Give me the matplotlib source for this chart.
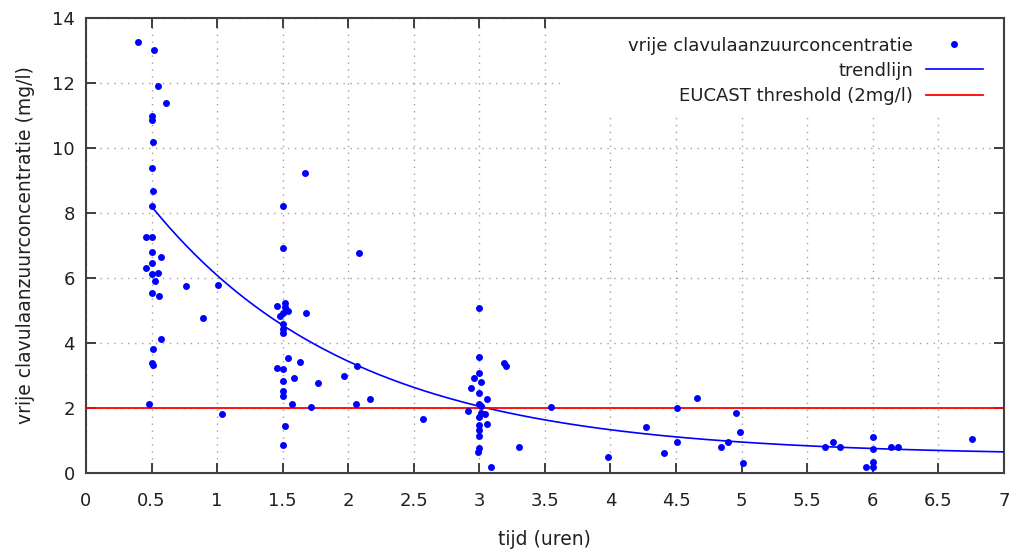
import numpy as np
import matplotlib
matplotlib.use("Agg")
import matplotlib.pyplot as plt
from matplotlib.patches import Rectangle

# measured points: tijd (uren) vs vrije clavulaanzuurconcentratie (mg/l)
tijd = [
    0.40, 0.52, 0.55, 0.61, 0.50, 0.50, 0.51, 0.50, 0.51, 0.50,
    0.46, 0.50, 0.50, 0.57, 0.50, 0.46, 0.50, 0.55, 0.53, 0.50,
    0.56, 0.76, 1.01, 0.89, 0.57, 0.51, 0.50, 0.51, 0.48, 1.04,
    1.67, 1.50, 1.50, 2.08, 1.46, 1.52, 1.52, 1.54, 1.50, 1.48,
    1.68, 1.50, 1.50, 1.50, 1.54, 1.46, 1.50, 1.63, 1.59, 1.50,
    1.97, 2.07, 1.77, 1.50, 1.50, 1.57, 1.72, 2.06, 2.17, 1.52,
    1.50, 2.57, 3.00, 3.00, 3.19, 3.20, 3.00, 2.96, 3.01, 2.94,
    3.00, 3.06, 3.00, 3.01, 2.91, 3.00, 3.04, 3.01, 3.06, 3.00,
    3.00, 3.00, 3.00, 2.99, 3.09, 3.30, 3.55, 3.98, 4.27, 4.41,
    4.51, 4.66, 4.51, 4.96, 4.99, 4.84, 4.90, 5.01, 5.64, 5.70,
    5.75, 6.00, 6.00, 6.00, 5.95, 6.00, 6.14, 6.19, 6.76,
]
conc = [
    13.26, 13.02, 11.90, 11.39, 10.99, 10.85, 10.18, 9.38, 8.67, 8.22,
    7.26, 7.26, 6.80, 6.66, 6.45, 6.30, 6.11, 6.15, 5.91, 5.55,
    5.45, 5.75, 5.80, 4.78, 4.13, 3.83, 3.37, 3.33, 2.12, 1.82,
    9.23, 8.22, 6.92, 6.76, 5.14, 5.24, 5.10, 4.99, 4.93, 4.83,
    4.93, 4.58, 4.44, 4.30, 3.53, 3.23, 3.19, 3.43, 2.92, 2.82,
    2.98, 3.28, 2.77, 2.51, 2.38, 2.12, 2.02, 2.12, 2.27, 1.46,
    0.85, 1.66, 5.09, 3.58, 3.37, 3.29, 3.07, 2.91, 2.79, 2.62,
    2.47, 2.27, 2.11, 2.06, 1.92, 1.73, 1.81, 1.86, 1.51, 1.48,
    1.32, 1.15, 0.76, 0.66, 0.19, 0.81, 2.02, 0.50, 1.42, 0.61,
    2.01, 2.32, 0.95, 1.86, 1.26, 0.80, 0.95, 0.30, 0.80, 0.95,
    0.80, 1.11, 0.75, 0.35, 0.19, 0.19, 0.80, 0.80, 1.06,
]

# trendline a*exp(-b*t) + c, parameters
trend_a, trend_b, trend_c = 10.6, 0.648, 0.537
trend_start, trend_end = 0.5, 7.0
eucast = 2.0

xticks = np.arange(0, 7.01, 0.5)
xlabels = ["0", "0.5", "1", "1.5", "2", "2.5", "3", "3.5", "4", "4.5", "5", "5.5", "6", "6.5", "7"]
yticks = np.arange(0, 15, 2)

plt.rcParams["font.family"] = ["DejaVu Sans"]

fig = plt.figure(figsize=(10.16, 5.52), dpi=100)
ax = fig.add_axes([0.0846, 0.1431, 0.9034, 0.8243])

tt = np.linspace(trend_start, trend_end, 300)
ax.plot(tijd, conc, "o", color="#0000ff", markersize=5, markeredgewidth=0,
        label="vrije clavulaanzuurconcentratie", zorder=4)
ax.plot(tt, trend_a * np.exp(-trend_b * tt) + trend_c, color="#0000ff", lw=1.2,
        label="trendlijn", zorder=3)
ax.axhline(eucast, color="#ff0000", lw=1.3, label="EUCAST threshold (2mg/l)", zorder=3)

ax.set_xlim(0, 7)
ax.set_ylim(0, 14)
ax.set_xticks(xticks)
ax.set_xticklabels(xlabels)
ax.set_yticks(yticks)
ax.tick_params(direction="in", length=7, width=1.3, color="#303030",
               top=True, right=True, labelsize=13, labelcolor="#202020")
ax.tick_params(axis="x", pad=14)
ax.tick_params(axis="y", pad=8)
ax.grid(True, linestyle=(0, (1, 4)), color="#a0a0a0", lw=1.0)
for s in ax.spines.values():
    s.set_color("#404040")
    s.set_linewidth(1.5)

ax.set_xlabel("tijd (uren)", fontsize=13.5, labelpad=14, color="#202020")
ax.set_ylabel("vrije clavulaanzuurconcentratie (mg/l)", fontsize=13.5, labelpad=12, color="#202020")

# opaque key area like gnuplot
ax.add_patch(Rectangle((0.516, 0.79), 0.484, 0.21, transform=ax.transAxes,
                       facecolor="white", edgecolor="none", zorder=2))

leg = ax.legend(loc="upper right", bbox_to_anchor=(0.9945, 0.995), markerfirst=False,
                fontsize=13, frameon=False, handlelength=3.15, handletextpad=0.7,
                borderaxespad=0.5, labelspacing=0.4)
for t in leg.get_texts():
    t.set_ha("right")
    t.set_color("#202020")
leg._legend_box.align = "right"

fig.savefig("out.png", dpi=100)
